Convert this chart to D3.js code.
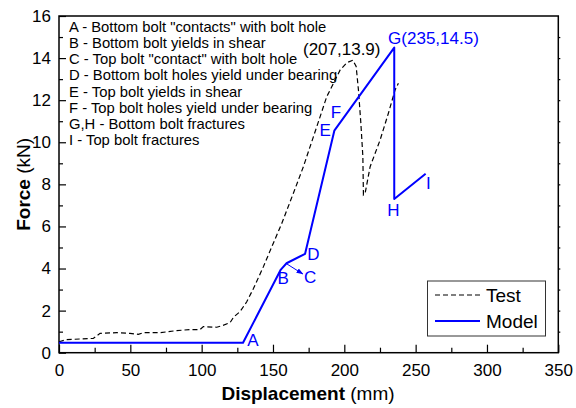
<!DOCTYPE html>
<html>
<head>
<meta charset="utf-8">
<script src="https://cdn.jsdelivr.net/npm/d3@7"></script>
<style>
  html, body { margin: 0; padding: 0; background: #fff; }
  svg { display: block; font-family: "Liberation Sans", Arial, sans-serif; }
</style>
</head>
<body>
<svg id="chart" width="576" height="408"></svg>
<script>
// Test record (dashed) — displacement in mm, force in kN
const testX = [0, 5, 24, 28.8, 40.5, 49.8, 55.6, 59.1, 70.8, 82.5, 91.9, 98.9, 101.2, 110.6, 115, 119.9, 122.5, 126.9, 131.6, 136.3,
  143.3, 149.2, 156.2, 164.3, 171.3, 180.7, 187.7, 192.4, 197.1, 201.8, 206, 208.3, 209.9, 211.6, 213, 213.4,
  214.6, 218.1, 225.1, 230.9, 235.6, 237.9];
const testY = [0.52, 0.62, 0.68, 0.92, 0.95, 0.92, 0.87, 0.95, 0.95, 1.05, 1.1, 1.1, 1.24, 1.21, 1.3, 1.43, 1.7, 1.95, 2.42, 3.05,
  4.09, 5.04, 6.15, 7.58, 8.84, 10.74, 12.17, 12.8, 13.44, 13.78, 13.9, 13.6, 12.49, 10.9, 9.32, 7.5,
  7.58, 8.84, 10.11, 11.38, 12.49, 12.8];

// Model response (solid)
const modelX = [0, 129, 155.5, 159.5, 172.5, 193, 235, 235, 257];
const modelY = [0.47, 0.47, 3.95, 4.25, 4.7, 10.55, 14.5, 7.3, 8.5];

// Event letters placed along the model curve
const eventText = ["A", "B", "C", "D", "E", "F", "G(235,14.5)", "H", "I"];
const eventX    = [136, 157.2, 176, 178.3, 186.5, 194.2, 230.7, 234.4, 259];
const eventY    = [0.6, 3.54, 3.58, 4.69, 10.58, 11.4, 14.94, 6.78, 8.05];
const eventAnchor = ["middle", "middle", "middle", "middle", "middle", "middle", "start", "middle", "middle"];

// Peak of the test record
const peakText = "(207,13.9)";
const peakX = 198.2, peakY = 14.39;

// Key to the event letters
const notes = [
  'A - Bottom bolt "contacts" with bolt hole',
  'B - Bottom bolt yields in shear',
  'C - Top bolt "contact" with bolt hole',
  'D - Bottom bolt holes yield under bearing',
  'E - Top bolt yields in shear',
  'F - Top bolt holes yield under bearing',
  'G,H - Bottom bolt fractures',
  'I - Top bolt fractures'
];

const xMajor = [0, 50, 100, 150, 200, 250, 300, 350];
const xMinor = [25, 75, 125, 175, 225, 275, 325];
const yMajor = [0, 2, 4, 6, 8, 10, 12, 14, 16];
const yMinor = [1, 3, 5, 7, 9, 11, 13, 15];

const blue = "#0000ff";
const svg = d3.select("#chart");
const L = 59, R = 558.3, T = 16, B = 352.7;
const x = d3.scaleLinear().domain([0, 350]).range([L, R]);
const y = d3.scaleLinear().domain([0, 16]).range([B, T]);

// axes with inward ticks
svg.append("g").attr("transform", `translate(0,${B})`)
  .call(d3.axisBottom(x).tickValues(xMajor).tickSizeInner(-8).tickSizeOuter(0).tickPadding(11).tickFormat(d3.format("d")));
svg.append("g").attr("transform", `translate(0,${B})`)
  .call(d3.axisBottom(x).tickValues(xMinor).tickSizeInner(-5).tickSizeOuter(0).tickFormat(""));
svg.append("g").attr("transform", `translate(${L},0)`)
  .call(d3.axisLeft(y).tickValues(yMajor).tickSizeInner(-7).tickSizeOuter(0).tickPadding(8).tickFormat(d3.format("d")));
svg.append("g").attr("transform", `translate(${L},0)`)
  .call(d3.axisLeft(y).tickValues(yMinor).tickSizeInner(-4).tickSizeOuter(0).tickFormat(""));
svg.append("g").attr("transform", `translate(${R},0)`)
  .call(d3.axisRight(y).tickValues(d3.range(1, 16)).tickSizeInner(2).tickSizeOuter(0).tickFormat(""));

svg.selectAll(".domain").remove();
svg.selectAll(".tick line").attr("stroke", "#000").attr("stroke-width", 1.2);
svg.selectAll(".tick text").attr("font-size", 17).attr("fill", "#000")
  .attr("font-family", '"Liberation Sans", Arial, sans-serif');

// frame
svg.append("rect").attr("x", L).attr("y", T).attr("width", R - L).attr("height", B - T)
  .attr("fill", "none").attr("stroke", "#000").attr("stroke-width", 1.5);

// axis titles
const xt = svg.append("text").attr("x", 308).attr("y", 400).attr("text-anchor", "middle")
  .attr("font-size", 19).attr("fill", "#000");
xt.append("tspan").attr("font-weight", "bold").text("Displacement");
xt.append("tspan").text(" (mm)");

const yt = svg.append("text").attr("transform", `translate(23,${(T + B) / 2}) rotate(-90)`)
  .attr("text-anchor", "middle").attr("dominant-baseline", "central").attr("font-size", 19).attr("fill", "#000");
yt.append("tspan").attr("font-weight", "bold").text("Force");
yt.append("tspan").text(" (kN)");

// curves
const line = d3.line().x(d => x(d[0])).y(d => y(d[1]));
svg.append("path").datum(d3.zip(testX, testY)).attr("d", line)
  .attr("fill", "none").attr("stroke", "#000").attr("stroke-width", 1.2).attr("stroke-dasharray", "5,3");
svg.append("path").datum(d3.zip(modelX, modelY)).attr("d", line)
  .attr("fill", "none").attr("stroke", blue).attr("stroke-width", 2).attr("stroke-linejoin", "round");

// arrow pointing at C
svg.append("defs").append("marker").attr("id", "head")
  .attr("viewBox", "0 0 10 10").attr("refX", 9).attr("refY", 5)
  .attr("markerWidth", 7).attr("markerHeight", 7).attr("orient", "auto")
  .append("path").attr("d", "M0,1.5 L10,5 L0,8.5 Z").attr("fill", blue);
svg.append("line").attr("x1", x(159.7)).attr("y1", y(4.22)).attr("x2", x(170.9)).attr("y2", y(3.74))
  .attr("stroke", blue).attr("stroke-width", 1).attr("marker-end", "url(#head)");

// event letters
svg.append("g").selectAll("text").data(eventText).join("text")
  .attr("x", (d, i) => x(eventX[i])).attr("y", (d, i) => y(eventY[i]))
  .attr("text-anchor", (d, i) => eventAnchor[i]).attr("dominant-baseline", "central")
  .attr("font-size", 17).attr("fill", blue).text(d => d);

svg.append("text").attr("x", x(peakX)).attr("y", y(peakY)).attr("text-anchor", "middle")
  .attr("dominant-baseline", "central").attr("font-size", 17).attr("fill", "#000").text(peakText);

// key
svg.append("g").selectAll("text").data(notes).join("text")
  .attr("x", 69).attr("y", (d, i) => 26.7 + i * 16.2).attr("dominant-baseline", "central")
  .attr("font-size", 14.8).attr("fill", "#000").text(d => d);

// legend
const lg = svg.append("g");
lg.append("rect").attr("x", 427.5).attr("y", 281).attr("width", 118).attr("height", 55)
  .attr("fill", "#fff").attr("stroke", "#333").attr("stroke-width", 1);
lg.append("line").attr("x1", 435).attr("x2", 480).attr("y1", 295).attr("y2", 295)
  .attr("stroke", "#000").attr("stroke-width", 1.2).attr("stroke-dasharray", "5,3");
lg.append("line").attr("x1", 435).attr("x2", 480).attr("y1", 321).attr("y2", 321)
  .attr("stroke", blue).attr("stroke-width", 2);
lg.append("text").attr("x", 486).attr("y", 295).attr("dominant-baseline", "central")
  .attr("font-size", 19).attr("fill", "#000").text("Test");
lg.append("text").attr("x", 486).attr("y", 321).attr("dominant-baseline", "central")
  .attr("font-size", 19).attr("fill", "#000").text("Model");
</script>
</body>
</html>
